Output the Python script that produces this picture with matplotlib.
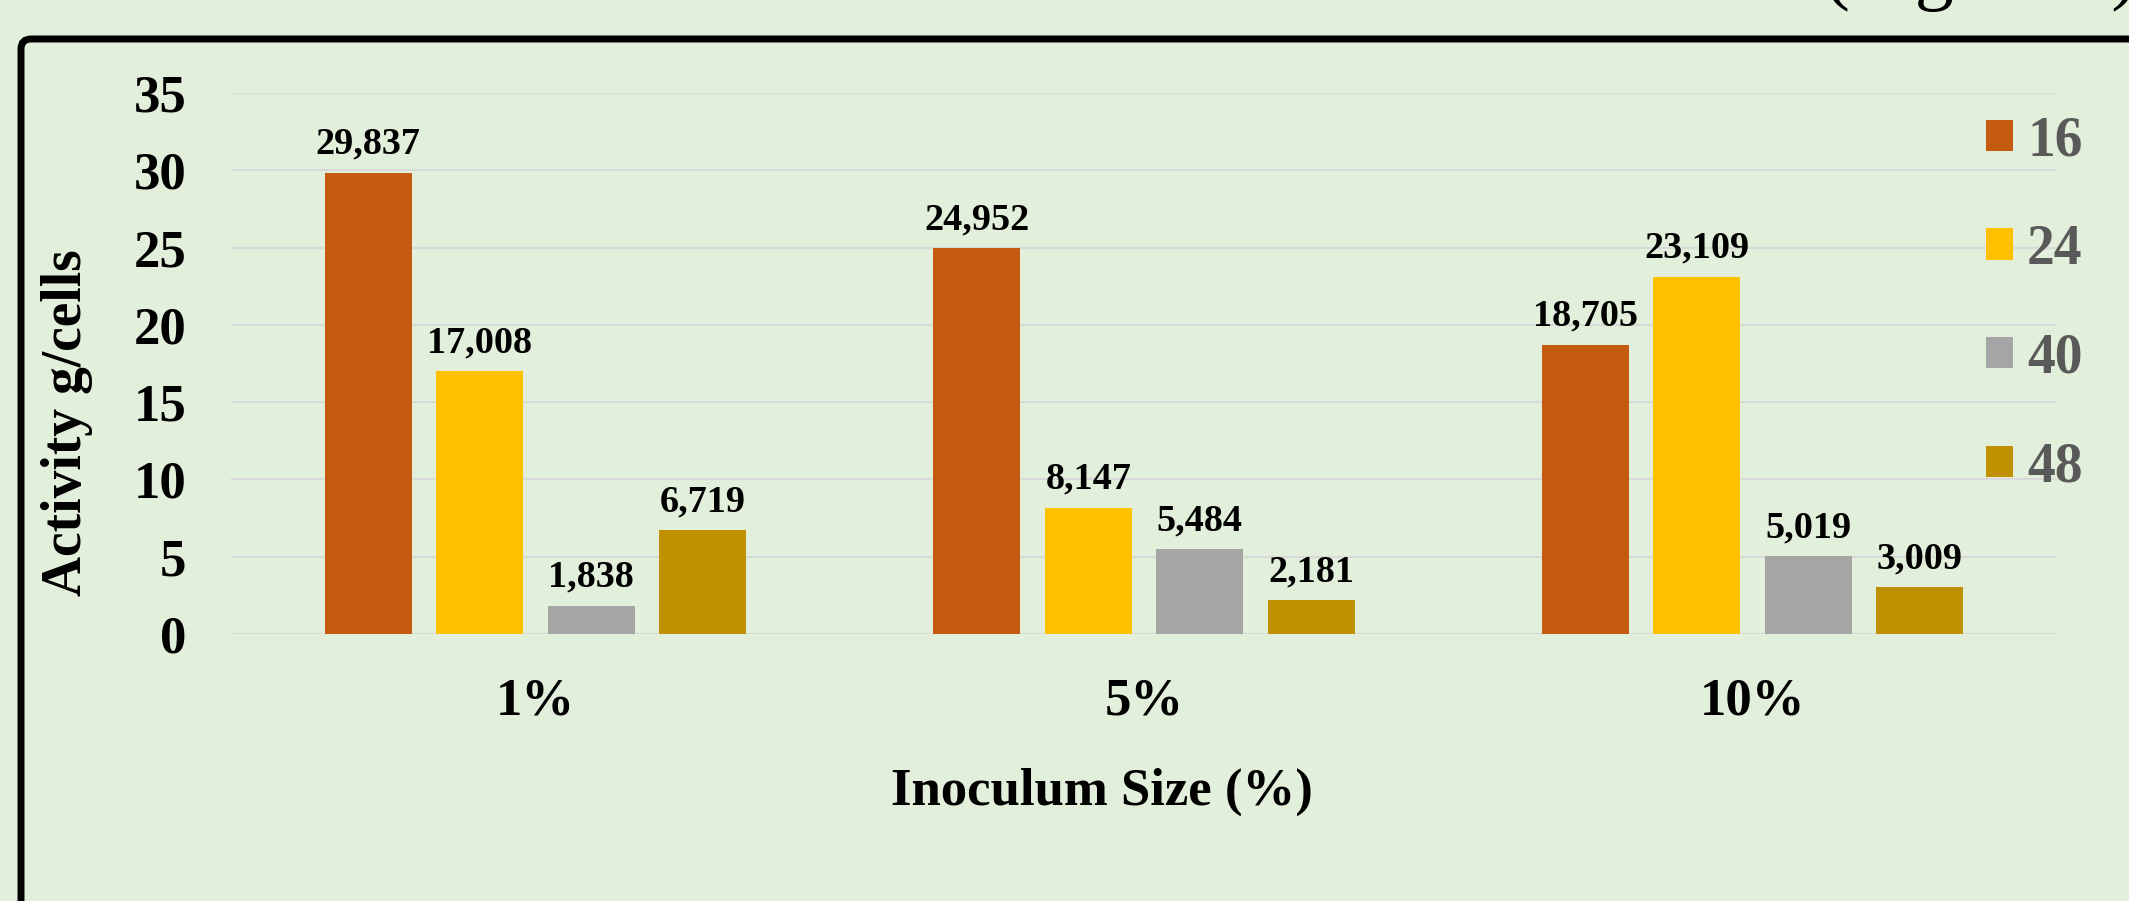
import numpy as np
import matplotlib
matplotlib.use('Agg')
import matplotlib.pyplot as plt
from matplotlib.patches import FancyBboxPatch
from matplotlib.transforms import IdentityTransform

plt.rcParams['font.family'] = ['Liberation Serif', 'DejaVu Serif']
plt.rcParams['font.weight'] = 'bold'

# Datos del grafico
categorias = ['1%', '5%', '10%']
horas = ['16', '24', '40', '48']
h16 = [29.837, 24.952, 18.705]
h24 = [17.008, 8.147, 23.109]
h40 = [1.838, 5.484, 5.019]
h48 = [6.719, 2.181, 3.009]
colores = ['#C55A11', '#FFC000', '#A5A5A5', '#BF9000']
y_ticks = [0, 5, 10, 15, 20, 25, 30, 35]

fondo = '#E2EFDA'
W, H = 2129, 901
fig = plt.figure(figsize=(W / 100, H / 100), dpi=100, facecolor=fondo)
ax = fig.add_axes([231 / W, 1 - 634 / H, (2057 - 231) / W, (634 - 93) / H])
ax.set_facecolor(fondo)

x = np.arange(len(categorias))
paso = 0.183
ancho = 0.143
series = [h16, h24, h40, h48]
for i, (vals, nombre, c) in enumerate(zip(series, horas, colores)):
    barras = ax.bar(x + (i - 1.5) * paso, vals, ancho, color=c, label=nombre, zorder=2)
    etiquetas = [f'{v:.3f}'.replace('.', ',') for v in vals]
    ax.bar_label(barras, labels=etiquetas, padding=8, fontsize=27.5, fontweight='bold')

ax.set_xlim(-0.5, 2.5)
ax.set_ylim(0, 35)
ax.set_yticks(y_ticks)
ax.set_xticks(x, categorias)
ax.tick_params(axis='y', length=0, pad=32, labelsize=38)
ax.tick_params(axis='x', length=0, pad=31, labelsize=38)
ax.grid(axis='y', color='#D9D9D9', linewidth=1.5, zorder=0)
ax.set_axisbelow(True)
for s in ax.spines.values():
    s.set_visible(False)

ax.legend(loc='upper left', bbox_to_anchor=(1986 / W, 1 - 115 / H),
          bbox_transform=fig.transFigure, frameon=False,
          prop={'size': 40, 'weight': 'bold'}, labelcolor='#595959',
          handlelength=0.49, handleheight=0.49, handletextpad=0.25,
          labelspacing=1.02, borderpad=0, borderaxespad=0)

fig.text(1102 / W, 1 - 792 / H, 'Inoculum Size (%)', ha='center', va='center',
         fontsize=38, fontweight='bold')
fig.text(67 / W, 1 - 423 / H, 'Activity g/cells', ha='center', va='center',
         rotation=90, fontsize=40, fontweight='bold')

# texto recortado arriba a la derecha
fig.text(1824 / W, 1 + 5 / H, '(Figure 1)', ha='left', va='baseline',
         fontsize=56, fontweight='normal')

# marco negro
marco = FancyBboxPatch((21, -100), 2400, H - 39 + 100,
                       boxstyle='round,pad=0,rounding_size=10',
                       transform=IdentityTransform(), fill=False,
                       edgecolor='black', linewidth=5)
fig.add_artist(marco)

fig.savefig('out.png', dpi=100, facecolor=fondo)
